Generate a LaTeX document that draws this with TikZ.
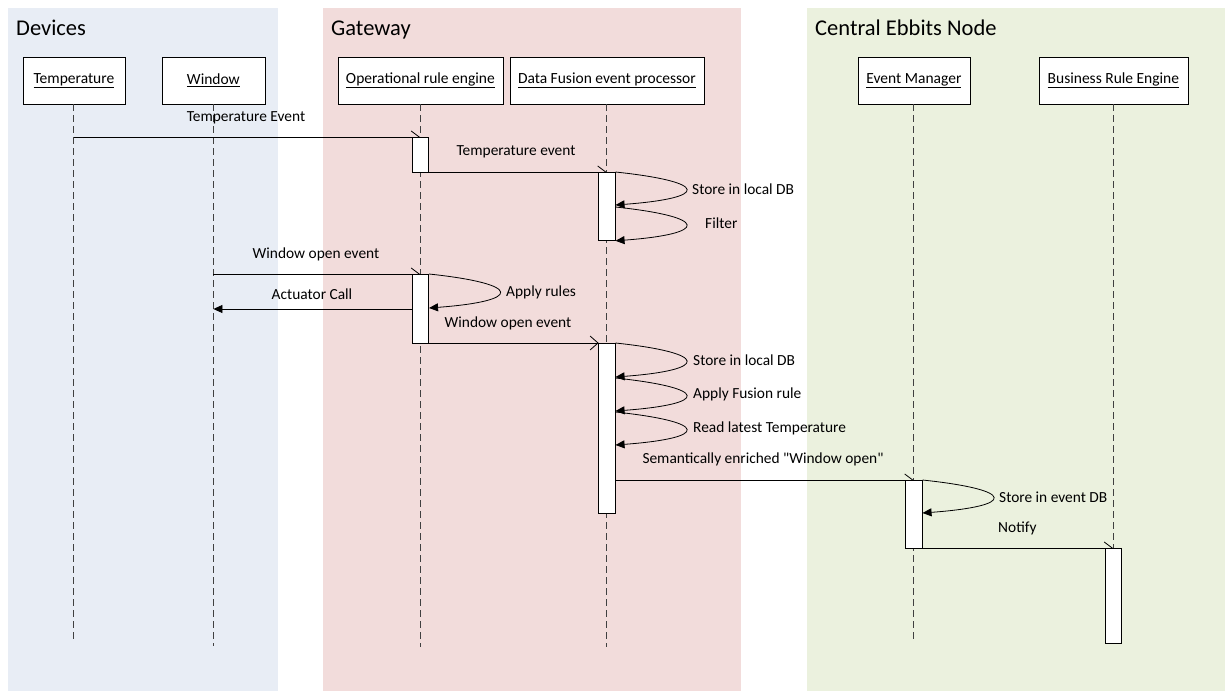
\documentclass[tikz,border=0pt]{standalone}
\usepackage{fontspec}
\setmainfont{Carlito}
% same face without TeX quote mapping, for straight double quotes
\newfontfamily\rawquote{Carlito}
\usetikzlibrary{arrows.meta,calc}

\definecolor{devbg}{HTML}{E8EDF5}
\definecolor{gwbg}{HTML}{F2DCDB}
\definecolor{cenbg}{HTML}{EBF1DE}

\newcommand{\sq}{{\rawquote"}}

\tikzset{
  panel/.style={draw=none, anchor=north west, inner sep=0pt},
  paneltitle/.style={anchor=base west, inner sep=0pt, font=\fontsize{22.5}{26}\selectfont},
  actor/.style={draw=black, line width=0.8pt, fill=white, anchor=north west, inner sep=0pt, minimum height=47pt, font=\fontsize{15.5}{18}\selectfont},
  lifeline/.style={draw=black!75, line width=0.9pt, dash pattern=on 7pt off 4pt},
  actbox/.style={draw=black, line width=0.8pt, fill=white, anchor=north, inner sep=0pt, minimum width=16.5pt},
  msg/.style={draw=black, line width=0.8pt},
  halfhead/.style={-{Straight Barb[harpoon, length=8pt, width=12pt, line width=0.8pt]}},
  openhead/.style={-{Straight Barb[length=8pt, width=14pt, line width=0.8pt]}},
  filledhead/.style={-{Triangle[length=9pt, width=8pt]}},
  lbl/.style={inner sep=0pt, font=\fontsize{15.4}{18}\selectfont},
}

\begin{document}
\begin{tikzpicture}[x=1pt, y=-1pt]
\useasboundingbox (0,0) rectangle (1227,691);

% swimlane panels
\node[panel, fill=devbg, minimum width=270pt, minimum height=683pt] (devpanel) at (8,8) {};
\node[panel, fill=gwbg, minimum width=418pt, minimum height=683pt] (gwpanel) at (323,8) {};
\node[panel, fill=cenbg, minimum width=418pt, minimum height=683pt] (cenpanel) at (807,8) {};

\node[paneltitle] (devtitle) at (16,35) {Devices};
\node[paneltitle] (gwtitle) at (331,35) {Gateway};
\node[paneltitle] (centitle) at (815,35) {Central Ebbits Node};

% participants
\node[actor, minimum width=102pt] (temp) at (22.5,56.5) {\underline{Temperature}};
\node[actor, minimum width=103pt] (win) at (161.5,56.5) {\underline{Window}};
\node[actor, minimum width=165pt] (ore) at (337.5,56.5) {\underline{Operational rule engine}};
\node[actor, minimum width=194pt] (dfp) at (509.5,56.5) {\underline{Data Fusion event processor}};
\node[actor, minimum width=112pt] (em) at (857.5,56.5) {\underline{Event Manager}};
\node[actor, minimum width=149pt] (bre) at (1038.5,56.5) {\underline{Business Rule Engine}};

% lifelines
\coordinate (tempend) at (temp.south |- 0,641);
\coordinate (winend) at (win.south |- 0,646);
\coordinate (oreend) at (ore.south |- 0,647);
\coordinate (dfpend) at (dfp.south |- 0,647);
\coordinate (emend) at (em.south |- 0,643);
\coordinate (breend) at (bre.south |- 0,548);
\draw[lifeline] (temp.south) -- (tempend);
\draw[lifeline] (win.south) -- (winend);
\draw[lifeline] (ore.south) -- (oreend);
\draw[lifeline] (dfp.south) -- (dfpend);
\draw[lifeline] (em.south) -- (emend);
\draw[lifeline] (bre.south) -- (breend);

% activation anchors (tops) on each lifeline
\coordinate (a1top) at (ore.south |- 0,137);
\coordinate (a2top) at (dfp.south |- 0,172);
\coordinate (a3top) at (ore.south |- 0,274);
\coordinate (a4top) at (dfp.south |- 0,343);
\coordinate (a5top) at (em.south |- 0,480);
\coordinate (a6top) at (bre.south |- 0,548);

% messages
\draw[msg, halfhead] (temp.south |- a1top) -- (a1top);
\node[lbl] (l1) at (246,118) {Temperature Event};

\draw[msg, halfhead] ($(a1top)+(8.25,35)$) -- (a2top);
\node[lbl] (l2) at (516,152) {Temperature event};

\draw[msg, halfhead] (win.south |- a3top) -- (a3top);
\node[lbl] (l3) at (316,254) {Window open event};

\draw[msg, filledhead] ($(a3top)+(-8.25,35)$) -- (win.south |- 0,309);
\node[lbl] (l4) at (312,294) {Actuator Call};

\draw[msg, openhead] ($(a3top)+(8.25,69)$) -- ($(a4top)+(-8.25,0)$);
\node[lbl] (l5) at (508,323) {Window open event};

\draw[msg, halfhead] ($(a4top)+(8.25,137)$) -- (a5top);
\node[lbl] (l6) at (763,459) {Semantically enriched \sq Window open\sq};

\draw[msg, halfhead] ($(a5top)+(8.25,68)$) -- (a6top);
\node[lbl, anchor=west] (l7) at (998,528) {Notify};

% activation boxes
\node[actbox, minimum height=35pt] (a1) at (a1top) {};
\node[actbox, minimum height=68pt] (a2) at (a2top) {};
\node[actbox, minimum height=69pt] (a3) at (a3top) {};
\node[actbox, minimum height=170pt] (a4) at (a4top) {};
\node[actbox, minimum height=68pt] (a5) at (a5top) {};
\node[actbox, minimum height=95pt] (a6) at (a6top) {};

% self calls
\draw[msg, filledhead] (a2.north east) .. controls +(94,10) and +(94,-7) .. ($(a2.north east)+(0,33)$);
\node[lbl, anchor=west] (s1) at (692,189) {Store in local DB};
\draw[msg, filledhead] ($(a2.north east)+(0,35)$) .. controls +(94,10) and +(94,-7) .. (a2.south east);
\node[lbl, anchor=west] (s2) at (705,223) {Filter};

\draw[msg, filledhead] (a3.north east) .. controls +(94,10) and +(94,-7) .. ($(a3.north east)+(0,34)$);
\node[lbl, anchor=west] (s3) at (506,292) {Apply rules};

\draw[msg, filledhead] (a4.north east) .. controls +(94,10) and +(94,-7) .. ($(a4.north east)+(0,34)$);
\node[lbl, anchor=west] (s4) at (693,360) {Store in local DB};
\draw[msg, filledhead] ($(a4.north east)+(0,35)$) .. controls +(94,10) and +(94,-7) .. ($(a4.north east)+(0,68)$);
\node[lbl, anchor=west] (s5) at (693,394) {Apply Fusion rule};
\draw[msg, filledhead] ($(a4.north east)+(0,69)$) .. controls +(94,10) and +(94,-7) .. ($(a4.north east)+(0,102)$);
\node[lbl, anchor=west] (s6) at (693,428) {Read latest Temperature};

\draw[msg, filledhead] (a5.north east) .. controls +(94,10) and +(94,-7) .. ($(a5.north east)+(0,33)$);
\node[lbl, anchor=west] (s7) at (999,497) {Store in event DB};

\end{tikzpicture}
\end{document}
